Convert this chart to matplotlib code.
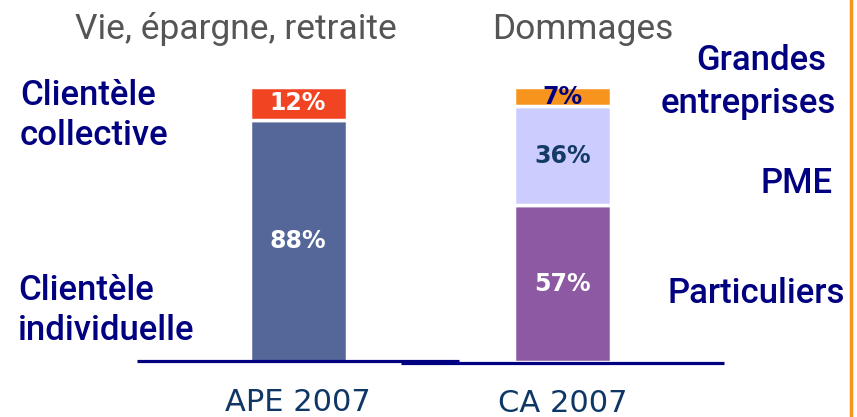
import matplotlib.pyplot as plt
import numpy as np

# data
categories = ["APE 2007", "CA 2007"]
titles = ["Vie, épargne, retraite", "Dommages"]
ape_segments = [88, 12]
ape_colors = ["#556699", "#F04423"]
ape_text_colors = ["white", "white"]
ca_segments = [57, 36, 7]
ca_colors = ["#8C59A2", "#CCCCFF", "#F7941D"]
ca_text_colors = ["white", "#143A66", "#000080"]

W, H = 857, 417
fig = plt.figure(figsize=(W / 100, H / 100), dpi=100)

# axes mapped so that category spacing and % scale match the picture
ax = fig.add_axes([0, 0, 1, 1])
px_per_unit = 264.5
px_per_pct = 2.75
x0_px, base_px = 298, 362
ax.set_xlim(-x0_px / px_per_unit, (W - x0_px) / px_per_unit)
ax.set_ylim((base_px - H) / px_per_pct, base_px / px_per_pct)
ax.axis("off")

bar_w = 97 / px_per_unit


def stack(x, values, colors, text_colors):
    bottom = 0
    for v, c, tc in zip(values, colors, text_colors):
        ax.bar(x, v, bottom=bottom, width=bar_w, color=c,
               edgecolor="white", linewidth=2.5)
        ax.text(x, bottom + v / 2, f"{v}%", ha="center", va="center",
                color=tc, fontsize=17, fontweight="bold",
                family="DejaVu Sans")
        bottom += v


stack(0, ape_segments, ape_colors, ape_text_colors)
stack(1, ca_segments, ca_colors, ca_text_colors)

# baselines
ax.plot([-0.61, 0.61], [0.3, 0.3], color="#000080", lw=2.3, solid_capstyle="butt")
ax.plot([0.39, 1.61], [-0.4, -0.4], color="#000080", lw=2.3, solid_capstyle="butt")


def ftext(x, y, s, **kw):
    fig.text(x / W, 1 - y / H, s, **kw)


# titles
grey = dict(color="#555555", fontsize=25.5, family="Roboto", va="baseline", ha="center")
ftext(236, 39, titles[0], **grey)
ftext(583, 39, titles[1], **grey)

# side labels
blue = dict(color="#000080", fontsize=25, family="Roboto", fontweight="medium",
            va="baseline")
ftext(20, 105, "Clientèle", **blue)
ftext(20, 145, "collective", **blue)
ftext(18, 300, "Clientèle", **blue)
ftext(18, 340, "individuelle", **blue)
ftext(761, 70, "Grandes", ha="center", **blue)
ftext(748, 113, "entreprises", ha="center", **blue)
ftext(797, 193, "PME", ha="center", **blue)
ftext(756, 303, "Particuliers", ha="center", **blue)

# category labels
cat = dict(color="#0F3766", fontsize=22, family="DejaVu Sans", va="baseline", ha="center")
ftext(298, 411, categories[0], **cat)
ftext(563, 412, categories[1], **cat)

# orange separator at right edge
fig.add_artist(plt.Line2D([851 / W, 851 / W], [0, 1], color="#F7941D", lw=2.5))

fig.savefig("out.png", dpi=100, facecolor="white")
